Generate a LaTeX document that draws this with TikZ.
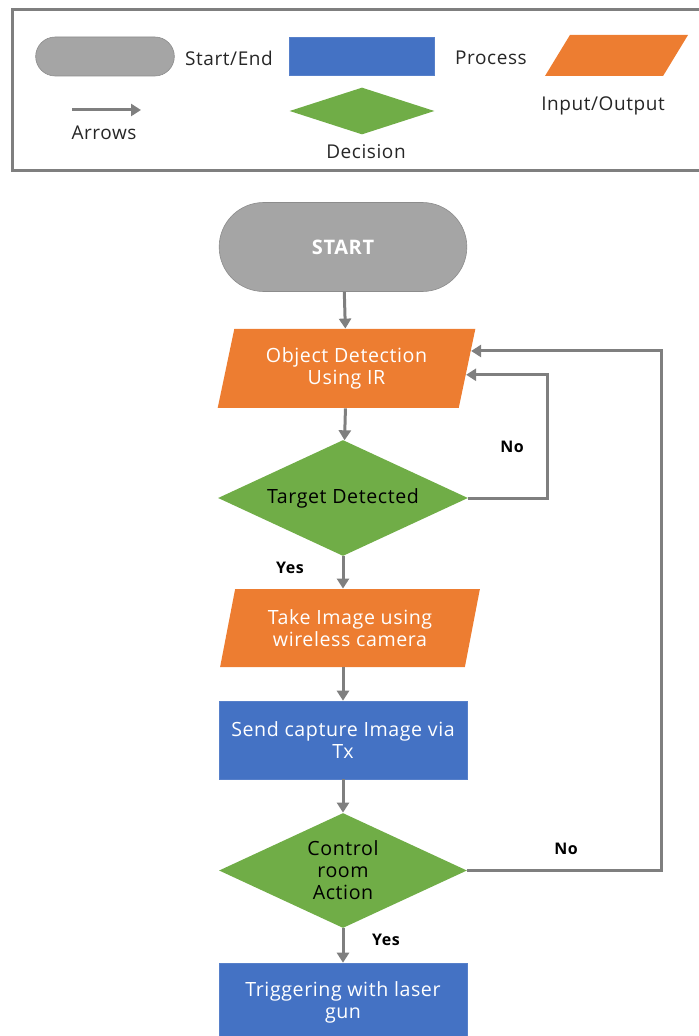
\documentclass[tikz,border=0pt]{standalone}
\usepackage{fontspec}
\setmainfont{Open Sans}[LetterSpace=3]
\usetikzlibrary{positioning,shapes.geometric,shapes.misc,arrows.meta}
\definecolor{termgray}{HTML}{A5A5A5}
\definecolor{procblue}{HTML}{4472C4}
\definecolor{ioorange}{HTML}{ED7D31}
\definecolor{decgreen}{HTML}{70AD47}
\definecolor{linegray}{HTML}{7F7F7F}
\tikzset{
  term/.style={rounded rectangle, fill=termgray, draw=termgray!85!black, line width=0.3pt, text=white, font=\bfseries},
  proc/.style={rectangle, fill=procblue, draw=procblue!90!white, line width=0.3pt, text=white, align=center, inner sep=0pt},
  inout/.style={trapezium, trapezium left angle=75, trapezium right angle=105, trapezium stretches=true, fill=ioorange, text=white, align=center, inner sep=1pt},
  decide/.style={diamond, fill=decgreen, align=center, inner sep=0pt, aspect=2.15},
  flow/.style={linegray, line width=1.5pt, -{Triangle[length=5pt,width=6pt]}},
  lbl/.style={font=\fontsize{8}{9}\selectfont\bfseries},
  legtext/.style={font=\fontsize{9.5}{11}\selectfont, text=black!85}
}
\begin{document}
\begin{tikzpicture}[x=0.5pt,y=-0.5pt,font=\fontsize{9.8}{11}\selectfont]
    \useasboundingbox (0,0) rectangle (698,1036);
    \draw[linegray, line width=1.5pt] (720,10) -- (12,10) -- (12,171) -- (720,171);
    \node[term, minimum width=76pt, minimum height=19.5pt] (legterm) at (105,56.5) {};
    \node[legtext] (legtermtxt) at (229,58) {Start/End};
    \node[proc, minimum width=72.5pt, minimum height=19pt] (legproc) at (362,56.5) {};
    \node[legtext] (legproctxt) at (491,58) {Process};
    \node[inout, minimum width=71.5pt, minimum height=20.5pt] (legio) at (616.5,55.5) {};
    \node[legtext] (legiotxt) at (603,106) {Input/Output};
    \node[decide, minimum width=72.5pt, minimum height=23.5pt] (legdec) at (362,111) {};
    \node[legtext] (legdectxt) at (366,152) {Decision};
    \coordinate (legarrA) at (72,110);
    \coordinate (legarrB) at (141,110);
    \draw[flow] (legarrA) -- (legarrB);
    \node[legtext] (legarrtxt) at (104,133) {Arrows};

    \node[term, minimum width=130.5pt, minimum height=44.5pt] (start) at (343,247) {START};
    \node[inout, minimum width=129.5pt, minimum height=39.5pt] (objdet) at (346.5,368.5) {Object Detection\\Using IR};
    \node[decide, minimum width=125pt, minimum height=58pt] (target) at (343,498) {Target Detected};
    \node[inout, minimum width=130pt, minimum height=39pt] (takeimg) at (350,628) {Take Image using\\wireless camera};
    \node[proc, minimum width=124pt, minimum height=39pt] (send) at (343,740) {Send capture Image via\\Tx};
    \node[decide, minimum width=124pt, minimum height=57.5pt] (control) at (343,870.5) {Control\\room\\Action};
    \node[proc, minimum width=124pt, minimum height=39pt] (trigger) at (343,1002) {Triggering with laser\\gun};

    \draw[flow] (start) -- (objdet);
    \draw[flow] (objdet) -- (target);
    \draw[flow] (target) -- (takeimg.north -| target.south);
    \draw[flow] (takeimg.south -| send.north) -- (send);
    \draw[flow] (send) -- (control);
    \draw[flow] (control) -- (trigger);
    \draw[flow] (target.east) -- ++(79,0) |- (objdet.-3);
    \draw[flow] (control.east) -- ++(194,0) |- (objdet.8.5);

    \node[lbl] (noA) at (512,447) {No};
    \node[lbl] (yesA) at (290,568) {Yes};
    \node[lbl] (noB) at (566,849) {No};
    \node[lbl] (yesB) at (386,940) {Yes};
\end{tikzpicture}
\end{document}
